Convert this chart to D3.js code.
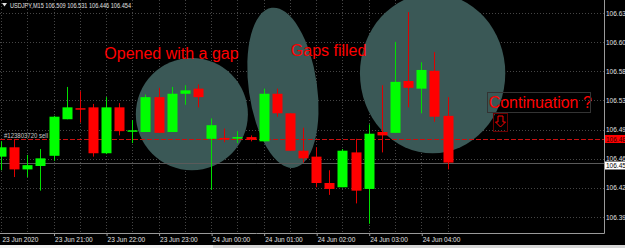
<!DOCTYPE html>
<html>
<head>
<meta charset="utf-8">
<script src="https://cdn.jsdelivr.net/npm/d3@7"></script>
<style>
  html, body { margin: 0; padding: 0; background: #000; }
  svg { display: block; }
  text { font-family: "Liberation Sans", Arial, sans-serif; }
</style>
</head>
<body>
<div id="chart"></div>
<script>
// USDJPY M15 bars, 23 Jun 20:00 -> 24 Jun 04:30
const symbol = "USDJPY,M15";

const times = [
  "2020-06-23 20:00", "2020-06-23 20:15", "2020-06-23 20:30", "2020-06-23 20:45",
  "2020-06-23 21:00", "2020-06-23 21:15", "2020-06-23 21:30", "2020-06-23 21:45",
  "2020-06-23 22:00", "2020-06-23 22:15", "2020-06-23 22:30", "2020-06-23 22:45",
  "2020-06-23 23:00", "2020-06-23 23:15", "2020-06-23 23:30", "2020-06-23 23:45",
  "2020-06-24 00:00", "2020-06-24 00:15", "2020-06-24 00:30", "2020-06-24 00:45",
  "2020-06-24 01:00", "2020-06-24 01:15", "2020-06-24 01:30", "2020-06-24 01:45",
  "2020-06-24 02:00", "2020-06-24 02:15", "2020-06-24 02:30", "2020-06-24 02:45",
  "2020-06-24 03:00", "2020-06-24 03:15", "2020-06-24 03:30", "2020-06-24 03:45",
  "2020-06-24 04:00", "2020-06-24 04:15", "2020-06-24 04:30"
];
const opens = [106.461, 106.472, 106.446, 106.450, 106.462, 106.505, 106.518, 106.519, 106.465, 106.519,
  106.491, 106.490, 106.531, 106.490, 106.535, 106.541, 106.482, 106.483, 106.483, 106.484,
  106.479, 106.535, 106.512, 106.468, 106.461, 106.430, 106.425, 106.466, 106.423, 106.490,
  106.489, 106.550, 106.541, 106.562, 106.509];
const highs = [106.479, 106.481, 106.463, 106.470, 106.509, 106.543, 106.538, 106.523, 106.531, 106.524,
  106.504, 106.534, 106.542, 106.543, 106.545, 106.546, 106.506, 106.494, 106.491, 106.486,
  106.541, 106.541, 106.512, 106.495, 106.472, 106.445, 106.470, 106.482, 106.499, 106.545,
  106.596, 106.631, 106.572, 106.584, 106.531];
const lows = [106.445, 106.437, 106.437, 106.421, 106.456, 106.505, 106.501, 106.461, 106.464, 106.486,
  106.477, 106.490, 106.489, 106.490, 106.522, 106.519, 106.422, 106.478, 106.477, 106.479,
  106.479, 106.508, 106.468, 106.454, 106.425, 106.416, 106.425, 106.406, 106.382, 106.466,
  106.489, 106.519, 106.512, 106.502, 106.446];
const closes = [106.472, 106.446, 106.451, 106.459, 106.508, 106.519, 106.517, 106.465, 106.519, 106.491,
  106.492, 106.531, 106.489, 106.535, 106.539, 106.531, 106.498, 106.482, 106.484, 106.481,
  106.535, 106.512, 106.468, 106.459, 106.430, 106.423, 106.468, 106.421, 106.488, 106.486,
  106.549, 106.542, 106.563, 106.508, 106.454];

const priceTicks = [106.63, 106.5957, 106.5614, 106.5271, 106.4929, 106.4586, 106.4243, 106.39];
const priceTickLabels = ["106.63", "106.60", "106.58", "106.53", "106.49", "106.46", "106.42", "106.39"];

const timeTicks = ["2020-06-23 20:00", "2020-06-23 21:00", "2020-06-23 22:00", "2020-06-23 23:00",
  "2020-06-24 00:00", "2020-06-24 01:00", "2020-06-24 02:00", "2020-06-24 03:00", "2020-06-24 04:00"];
const timeTickLabels = ["23 Jun 2020", "23 Jun 21:00", "23 Jun 22:00", "23 Jun 23:00",
  "24 Jun 00:00", "24 Jun 01:00", "24 Jun 02:00", "24 Jun 03:00", "24 Jun 04:00"];

const orderLabel = "#123803720 sell";
const orderPrice = 106.482;
const bidPrice = 106.454;

// drawn ellipses: centre (time, price), half width in minutes, half height in price
const zones = [
  { t: "2020-06-23 23:38", p: 106.511, halfMin: 64, halfP: 0.066, rot: 0 },
  { t: "2020-06-24 01:22", p: 106.542, halfMin: 39, halfP: 0.095, rot: -8 },
  { t: "2020-06-24 04:13", p: 106.559, halfMin: 83, halfP: 0.094, rot: 0 }
];
const notes = [
  { text: "Opened with a gap", t: "2020-06-23 21:58", p: 106.576 },
  { text: "Gaps filled", t: "2020-06-24 01:31", p: 106.579 },
  { text: "Continuation ?", t: "2020-06-24 05:17", p: 106.518 }
];

const W = 625, H = 248;
const plotRight = 604, plotBottom = 233;

const parse = d3.timeParse("%Y-%m-%d %H:%M");
const bars = times.map((t, i) => ({
  date: parse(t), o: opens[i], h: highs[i], l: lows[i], c: closes[i]
}));

const x = d3.scaleTime()
  .domain([bars[0].date, bars[bars.length - 1].date])
  .range([1, 447.5]);
const y = d3.scaleLinear()
  .domain([106.39, 106.63])
  .range([217, 13]);

const svg = d3.select("#chart").append("svg")
  .attr("width", W)
  .attr("height", H);

svg.append("rect").attr("width", W).attr("height", H).attr("fill", "#000");

svg.append("clipPath").attr("id", "plot")
  .append("rect").attr("x", 0).attr("y", 0).attr("width", plotRight).attr("height", plotBottom);

const plot = svg.append("g").attr("clip-path", "url(#plot)");

// grid
plot.selectAll(".hgrid")
  .data(priceTicks)
  .enter().append("line")
  .attr("x1", 0).attr("x2", plotRight)
  .attr("y1", d => Math.round(y(d)) + 0.5).attr("y2", d => Math.round(y(d)) + 0.5)
  .attr("stroke", "#454545")
  .attr("stroke-dasharray", "1,2");

plot.selectAll(".vgrid")
  .data(bars.filter((d, i) => i % 2 === 0))
  .enter().append("line")
  .attr("x1", d => Math.round(x(d.date)) + 0.5).attr("x2", d => Math.round(x(d.date)) + 0.5)
  .attr("y1", 0).attr("y2", plotBottom)
  .attr("stroke", "#454545")
  .attr("stroke-dasharray", "1,2");

// ellipses
plot.selectAll(".zone")
  .data(zones)
  .enter().append("ellipse")
  .each(function(d) {
    const t = parse(d.t);
    const cx = x(t), cy = y(d.p);
    const rx = x(d3.timeMinute.offset(t, d.halfMin)) - cx;
    const ry = y(d.p - d.halfP) - cy;
    d3.select(this)
      .attr("cx", cx).attr("cy", cy)
      .attr("rx", rx).attr("ry", ry)
      .attr("transform", `rotate(${d.rot},${cx},${cy})`);
  })
  .attr("fill", "#3a5856");

// bid line and order line
plot.append("line")
  .attr("x1", 0).attr("x2", plotRight)
  .attr("y1", Math.round(y(bidPrice)) + 0.5).attr("y2", Math.round(y(bidPrice)) + 0.5)
  .attr("stroke", "#5a5a5a");

plot.append("line")
  .attr("x1", 0).attr("x2", plotRight)
  .attr("y1", Math.round(y(orderPrice)) + 0.5).attr("y2", Math.round(y(orderPrice)) + 0.5)
  .attr("stroke", "#c81010")
  .attr("stroke-dasharray", "5,2");

plot.append("text")
  .attr("x", 4)
  .attr("y", Math.round(y(orderPrice)) - 1.5)
  .attr("fill", "#c8c8c8")
  .attr("font-size", "6.5px")
  .attr("textLength", 44)
  .attr("lengthAdjust", "spacingAndGlyphs")
  .text(orderLabel);

// candles
const bw = 10;
const candle = plot.selectAll(".candle")
  .data(bars)
  .enter().append("g");

candle.append("line")
  .attr("x1", d => Math.round(x(d.date)) + 0.5)
  .attr("x2", d => Math.round(x(d.date)) + 0.5)
  .attr("y1", d => y(d.h))
  .attr("y2", d => y(d.l))
  .attr("stroke", d => d.c >= d.o ? "#00e000" : "#e00000");

candle.append("rect")
  .attr("x", d => Math.round(x(d.date)) - bw / 2 + 0.5)
  .attr("y", d => y(Math.max(d.o, d.c)))
  .attr("width", bw)
  .attr("height", d => Math.max(1.5, Math.abs(y(d.o) - y(d.c))))
  .attr("fill", d => d.c >= d.o ? "#00ff00" : "#ff0000");

// text notes
plot.selectAll(".note")
  .data(notes)
  .enter().append("text")
  .attr("x", d => x(parse(d.t)))
  .attr("y", d => y(d.p))
  .attr("fill", "#ff0000")
  .attr("font-size", "16px")
  .text(d => d.text);

// box around the last note and the down arrow under it
const last = notes[notes.length - 1];
const lx = x(parse(last.t)), ly = y(last.p);
plot.append("rect")
  .attr("x", Math.round(lx) - 1.5).attr("y", Math.round(ly) - 15.5)
  .attr("width", 103).attr("height", 20)
  .attr("fill", "none").attr("stroke", "#333");
const ax = Math.round(lx) + 4, ay = Math.round(ly) + 5;
plot.append("rect")
  .attr("x", ax + 0.5).attr("y", ay + 0.5)
  .attr("width", 14).attr("height", 18)
  .attr("fill", "none").attr("stroke", "#6a0000");
plot.append("path")
  .attr("d", `M${ax + 5},${ay + 3} H${ax + 10} V${ay + 9} H${ax + 12.5} L${ax + 7.5},${ay + 14} L${ax + 2.5},${ay + 9} H${ax + 5} Z`)
  .attr("fill", "none").attr("stroke", "#ff0000");

// frame
svg.append("line")
  .attr("x1", plotRight + 0.5).attr("x2", plotRight + 0.5)
  .attr("y1", 0).attr("y2", plotBottom + 0.5)
  .attr("stroke", "#9a9a9a");
svg.append("line")
  .attr("x1", 0).attr("x2", plotRight + 0.5)
  .attr("y1", plotBottom + 0.5).attr("y2", plotBottom + 0.5)
  .attr("stroke", "#9a9a9a");

// price axis
const yAxis = d3.axisRight(y)
  .tickValues(priceTicks)
  .tickFormat((d, i) => priceTickLabels[i])
  .tickSize(0)
  .tickPadding(2);
const yg = svg.append("g")
  .attr("transform", `translate(${plotRight},0)`)
  .call(yAxis);
yg.select(".domain").remove();
yg.selectAll("text")
  .attr("fill", "#e0e0e0")
  .attr("font-size", "6.5px")
  .attr("font-family", "Liberation Sans, Arial, sans-serif");

// price tags on the axis
const tags = [
  { p: orderPrice, bg: "#ff0000", fg: "#300000", dy: -4 },
  { p: bidPrice, bg: "#ffffff", fg: "#000000", dy: -1.5 }
];
tags.forEach(tg => {
  const ty = Math.round(y(tg.p)) + tg.dy;
  svg.append("rect")
    .attr("x", plotRight + 1).attr("y", ty)
    .attr("width", W - plotRight).attr("height", 8)
    .attr("fill", tg.bg);
  svg.append("text")
    .attr("x", plotRight + 2).attr("y", ty + 6.5)
    .attr("fill", tg.fg)
    .attr("font-size", "6.5px")
    .text(tg.p.toFixed(2));
});

// time axis
const xAxis = d3.axisBottom(x)
  .tickValues(timeTicks.map(parse))
  .tickFormat((d, i) => timeTickLabels[i])
  .tickSize(3);
const xg = svg.append("g")
  .attr("transform", `translate(0,${plotBottom})`)
  .call(xAxis);
xg.select(".domain").remove();
xg.selectAll("line").attr("stroke", "#9a9a9a")
  .attr("transform", "translate(0.5,0)");
xg.selectAll("line").filter((d, i) => i === 0).remove();
xg.selectAll("text")
  .attr("fill", "#e0e0e0")
  .attr("font-size", "6.5px")
  .attr("font-family", "Liberation Sans, Arial, sans-serif")
  .attr("text-anchor", "start")
  .attr("dx", 1)
  .attr("dy", 0)
  .attr("y", 9);

// title
const lb = bars[bars.length - 1];
svg.append("path")
  .attr("d", "M2,3 H7 L4.5,6.5 Z")
  .attr("fill", "#e0e0e0");
svg.append("text")
  .attr("x", 10).attr("y", 8)
  .attr("fill", "#e0e0e0")
  .attr("font-size", "6.5px")
  .attr("textLength", 121)
  .attr("lengthAdjust", "spacingAndGlyphs")
  .text(`${symbol}  ${lb.o.toFixed(3)} ${lb.h.toFixed(3)} ${lb.l.toFixed(3)} ${lb.c.toFixed(3)}`);

// tab strip at the very bottom
svg.append("rect").attr("x", 0).attr("y", 245).attr("width", W).attr("height", 3).attr("fill", "#d6d6d6");
svg.append("rect").attr("x", 0).attr("y", 245).attr("width", 213).attr("height", 3).attr("fill", "#f2f2f2");
</script>
</body>
</html>
